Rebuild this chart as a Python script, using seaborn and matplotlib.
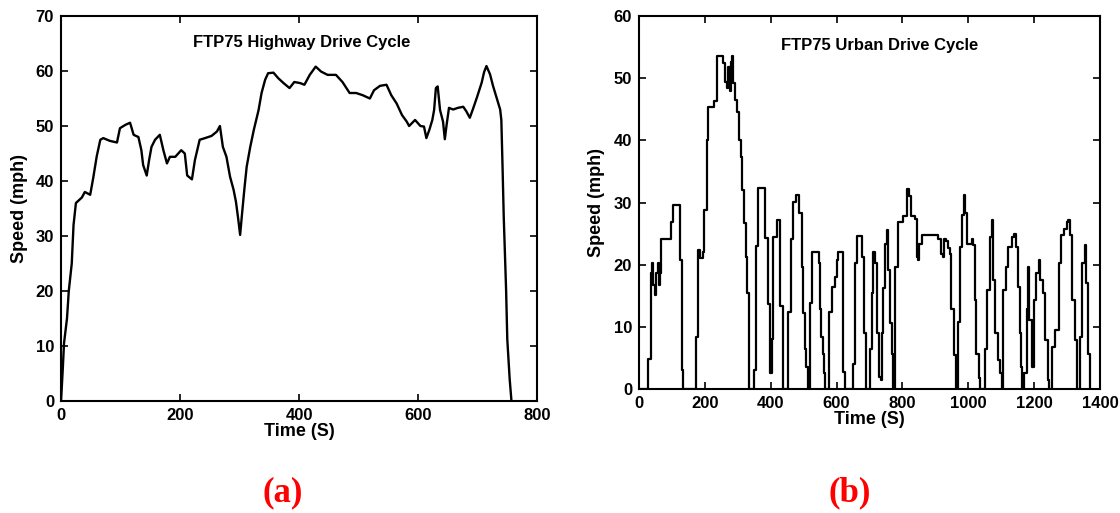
import pandas as pd
import matplotlib
matplotlib.use("Agg")
import matplotlib.pyplot as plt
import seaborn as sns

# FTP75 highway cycle (time s, speed mph)
hwy_time = [0, 3, 5, 10, 13, 18, 21, 25, 35, 40, 49, 54, 60, 66, 71, 82, 94, 99,
            108, 116, 122, 130, 135, 138, 144, 148, 152, 158, 166, 172, 178, 183,
            192, 202, 208, 212, 220, 225, 233, 242, 253, 262, 267, 272, 278, 284,
            290, 294, 298, 301, 304, 308, 312, 318, 324, 332, 337, 343, 348, 357,
            365, 374, 384, 392, 402, 409, 418, 428, 437, 448, 462, 473, 485, 496,
            507, 519, 526, 536, 547, 555, 564, 573, 581, 585, 595, 604, 610, 614,
            619, 624, 627, 630, 633, 637, 642, 645, 648, 652, 659, 667, 676, 681,
            687, 692, 699, 707, 711, 715, 721, 726, 733, 738, 740, 742, 744, 748,
            750, 754, 757]
hwy_speed = [0, 6, 10.5, 15, 20, 25, 32, 36, 37, 38, 37.5, 40.5, 44.5, 47.5, 47.8,
             47.3, 47, 49.6, 50.2, 50.6, 48.4, 48, 45.6, 42.9, 41, 43.8, 46.2, 47.5,
             48.4, 45.6, 43.2, 44.4, 44.4, 45.6, 45, 41, 40.3, 43.8, 47.5, 47.8, 48.2,
             49, 50, 46.2, 44.4, 40.8, 38.4, 36.2, 32.9, 30.2, 33.8, 38.4, 42.6, 46.2,
             49.3, 52.9, 56, 58.4, 59.6, 59.7, 58.7, 57.8, 56.9, 58, 57.8, 57.5, 59.3,
             60.8, 59.9, 59.3, 59.3, 58, 56, 56, 55.6, 55, 56.5, 57.3, 57.5, 55.6,
             54.1, 52, 50.8, 50, 51.1, 50, 49.9, 47.8, 49.3, 51.1, 52.9, 56.9, 57.2,
             52.9, 50.8, 47.6, 50.2, 53.3, 53, 53.3, 53.5, 52.7, 51.5, 53, 55.2, 57.9,
             59.8, 60.9, 59.4, 57.3, 54.8, 53, 51.1, 42.7, 33.6, 20.2, 11.2, 4, 0]

# FTP75 urban cycle (time s, speed mph)
urb_time = [0, 28, 36, 38.5, 43.5, 48.6, 50.6, 56.7, 60.7, 63.8, 66.8, 97, 104,
            124.5, 129.6, 135, 173, 180, 185, 195, 198.4, 205.5, 210.6, 228.8,
            235.9, 256, 261, 266, 271, 276, 279, 283.5, 286.5, 291.6, 296.6, 303.7,
            309.8, 313.9, 320, 324, 329, 334, 349, 354, 362, 383, 392.8, 397.9,
            402.9, 408, 418, 428, 436, 453.5, 460.6, 468.8, 476.8, 487, 494, 499,
            504, 507.4, 514, 519, 524, 547, 550, 554, 558, 563, 566, 578, 585, 595,
            602, 605.5, 619, 621, 626, 649, 656, 663, 676.5, 683.6, 689.7, 701.6,
            706.6, 711.7, 716.8, 721.8, 729, 734, 737, 742, 747, 754, 757, 762, 767,
            772, 777.5, 787.6, 802.8, 813, 821, 825, 838, 843, 848, 851, 858.5, 909,
            912, 916, 922, 926, 932, 939, 946, 949, 956, 963, 969.8, 975, 982, 987,
            991, 997, 1010, 1015, 1020, 1025, 1032, 1035, 1051, 1058, 1066, 1071.5,
            1076.5, 1081.6, 1089.7, 1096.7, 1102, 1107, 1115, 1122, 1132, 1139.5,
            1145.6, 1150.6, 1155.7, 1159.8, 1163, 1170, 1178, 1183, 1186, 1193.5,
            1198.6, 1206.7, 1213.8, 1219, 1227, 1234, 1241, 1246, 1254.7, 1262, 1275,
            1282, 1290, 1298.5, 1303.5, 1308.6, 1315.7, 1322.8, 1329, 1339, 1346,
            1353.5, 1357.5, 1363.6, 1369.7]
urb_speed = [0, 4.9, 18.6, 20.2, 16.8, 15.2, 18.6, 20.2, 16.8, 18.6, 24.1, 26.9, 29.6,
             20.7, 3.1, 0, 8.4, 22.3, 21, 22, 28.8, 40.1, 45.3, 46.4, 53.5, 52.4, 49.4,
             48.4, 51.8, 48, 52.6, 53.5, 49.2, 46.5, 44.6, 40.1, 37.4, 32, 26.7, 21.3,
             15.4, 0, 3.1, 23, 32.4, 24.3, 13.6, 2.6, 8.1, 24.4, 27.2, 13.4, 0, 12.4,
             24.1, 30.1, 31.2, 28.3, 19.6, 12.2, 6.5, 3.6, 0, 13.8, 22.1, 20.3, 12.8,
             8.4, 5.7, 2.5, 0, 12.4, 16.4, 18, 20.7, 22.1, 13.8, 2.8, 0, 4.1, 20.3,
             24.6, 21.3, 9, 0, 6.5, 15.4, 22.1, 20.3, 9, 2, 1.4, 9, 16.2, 23.4, 25.6,
             19.1, 10.6, 5.7, 0, 19.6, 26.9, 27.9, 32.1, 31.1, 27.9, 27.4, 21.3, 20.7,
             23.4, 24.8, 24.1, 24.1, 21.8, 21.3, 24.1, 23.8, 22.7, 21.8, 12.8, 5.5, 0,
             10.8, 22.9, 28, 31.2, 28.3, 23.4, 24.2, 23.2, 14.3, 5.7, 1.7, 0, 6.5,
             15.9, 24.5, 27.2, 17.5, 9, 4.7, 2.5, 0, 15.9, 19.6, 22.9, 24.5, 25, 22.9,
             16.4, 9, 3.6, 0, 2.5, 12.8, 19.6, 11.1, 3.6, 14.3, 18.6, 20.7, 17.5, 15.4,
             7.9, 1.4, 0, 6.8, 9.5, 20.3, 24.8, 25.8, 26.9, 27.2, 24.8, 14.3, 7.9, 0,
             8.4, 20.3, 23.2, 17, 5.7, 0]

hwy_ticks_x = [0, 200, 400, 600, 800]
hwy_ticks_y = [0, 10, 20, 30, 40, 50, 60, 70]
urb_ticks_x = [0, 200, 400, 600, 800, 1000, 1200, 1400]
urb_ticks_y = [0, 10, 20, 30, 40, 50, 60]

df_hwy = pd.DataFrame({'Time': hwy_time, 'Speed': hwy_speed})
df_urb = pd.DataFrame({'Time': urb_time, 'Speed': urb_speed})

sns.set_style('ticks', {'text.color': 'black', 'axes.labelcolor': 'black',
                        'xtick.color': 'black', 'ytick.color': 'black',
                        'axes.edgecolor': 'black'})
plt.rcParams['font.family'] = ['Liberation Sans', 'DejaVu Sans']
plt.rcParams['axes.linewidth'] = 1.5

fig = plt.figure(figsize=(11.2, 5.13), dpi=100)
ax1 = fig.add_axes([0.0545, 0.2183, 0.425, 0.7505])
ax2 = fig.add_axes([0.5705, 0.2417, 0.4116, 0.727])

sns.lineplot(data=df_hwy, x='Time', y='Speed', ax=ax1, color='black', linewidth=1.7)
sns.lineplot(data=df_urb, x='Time', y='Speed', ax=ax2, color='black', linewidth=1.6,
             drawstyle='steps-post')

panels = [
    (ax1, 800, 70, hwy_ticks_x, hwy_ticks_y, 'FTP75 Highway Drive Cycle', 0.505, 0.932, -0.057, -0.069),
    (ax2, 1400, 60, urb_ticks_x, urb_ticks_y, 'FTP75 Urban Drive Cycle', 0.523, 0.92, -0.06, -0.074),
]
for ax, xmax, ymax, xt, yt, title, tx, ty, xl_y, yl_x in panels:
    ax.set_xlim(0, xmax)
    ax.set_ylim(0, ymax)
    ax.set_xticks(xt)
    ax.set_yticks(yt)
    for spine in ax.spines.values():
        spine.set_visible(True)
        spine.set_color('black')
    ax.tick_params(direction='in', length=5, width=1.2, top=True, right=True,
                   labelsize=12, pad=5, colors='black')
    for lab in ax.get_xticklabels() + ax.get_yticklabels():
        lab.set_fontweight('bold')
    ax.set_xlabel('Time (S)', fontsize=13, fontweight='bold', color='black')
    ax.set_ylabel('Speed (mph)', fontsize=13, fontweight='bold', color='black')
    ax.xaxis.set_label_coords(0.5, xl_y)
    ax.yaxis.set_label_coords(yl_x, 0.5)
    ax.text(tx, ty, title, transform=ax.transAxes, ha='center', va='center',
            fontsize=12, fontweight='bold', color='black')

fig.text(283 / 1120, 0.039, '(a)', color='red', fontsize=25, fontweight='bold',
         family=['Liberation Serif', 'DejaVu Serif'], ha='center', va='center')
fig.text(850 / 1120, 0.039, '(b)', color='red', fontsize=25, fontweight='bold',
         family=['Liberation Serif', 'DejaVu Serif'], ha='center', va='center')

fig.savefig('out.png', dpi=100, facecolor='white')
